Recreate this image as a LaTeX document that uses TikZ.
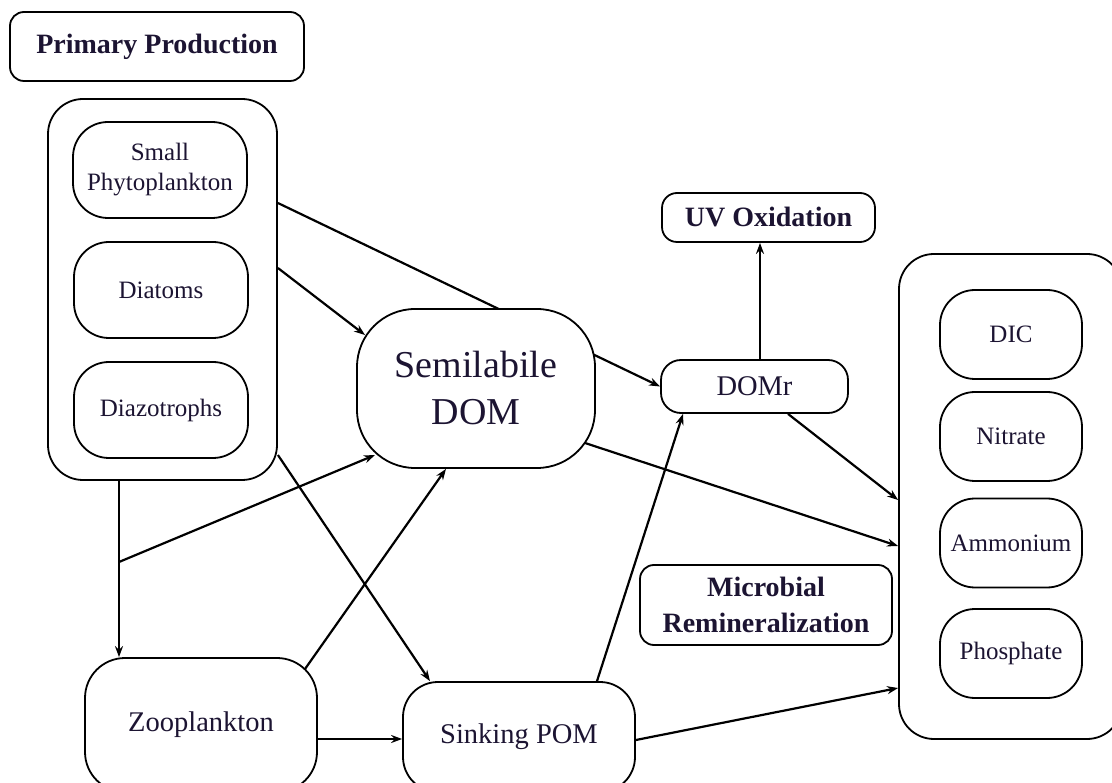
\documentclass[tikz,border=0pt]{standalone}
\usepackage{fontspec}
\setmainfont{Liberation Serif}
\usetikzlibrary{arrows.meta,backgrounds,calc}
\definecolor{inkdark}{RGB}{28,20,50}

\begin{document}
\begin{tikzpicture}[x=1pt, y=-1pt, >={Stealth[length=11pt,width=8pt]},
  card/.style={draw, fill=white, line width=1.8pt, inner sep=0pt, align=center, text=inkdark},
  group/.style={card, rounded corners=35pt},
  plankton/.style={card, rounded corners=35pt, minimum width=174pt, minimum height=96pt,
    font=\fontsize{25}{30}\selectfont},
  nutrient/.style={card, rounded corners=35pt, minimum width=142pt, minimum height=89pt,
    font=\fontsize{25}{30}\selectfont},
  proc/.style={card, rounded corners=14pt, font=\fontsize{28}{36}\selectfont\bfseries},
  pool/.style={card, font=\fontsize{28.5}{34}\selectfont},
  flux/.style={->, line width=2.2pt}]
  \useasboundingbox (0,0) rectangle (1112,783);
  \clip (0,0) rectangle (1112,783);

  % process labels
  \node[proc, minimum width=294pt, minimum height=69pt] (prim) at (157,46.5) {Primary Production};
  \node[proc, minimum width=213pt, minimum height=49pt, rounded corners=15pt] (uv) at (768.5,217.5) {UV Oxidation};
  \node[proc, minimum width=252pt, minimum height=80pt] (micro) at (766,605) {Microbial\\Remineralization};

  % phytoplankton group
  \node[group, minimum width=229pt, minimum height=381pt] (phyto) at (162.5,289.5) {};
  \node[plankton] (small) at (160,170) {Small\\Phytoplankton};
  \node[plankton] (diatoms) at (161,290) {Diatoms};
  \node[plankton] (diazo) at (161,410) {Diazotrophs};

  % organic matter pools
  \node[card, minimum width=238pt, minimum height=159pt, rounded corners=58pt,
    font=\fontsize{38}{47}\selectfont] (semi) at (476,388.5) {Semilabile\\DOM};
  \node[pool, minimum width=187pt, minimum height=53pt, rounded corners=20pt] (domr) at (754.5,386.5) {DOMr};
  \node[pool, minimum width=232pt, minimum height=134pt, rounded corners=40pt] (zoo) at (201,725) {\raisebox{6pt}{Zooplankton}};
  \node[pool, minimum width=232pt, minimum height=110pt, rounded corners=35pt] (sink) at (519,737) {\raisebox{2pt}{Sinking POM}};

  % nutrient group
  \node[group, minimum width=223pt, minimum height=485pt] (nut) at (1010.5,496.5) {};
  \node[nutrient] (dic) at (1011,334.5) {DIC};
  \node[nutrient] (nitrate) at (1011,436.5) {Nitrate};
  \node[nutrient] (ammon) at (1011,543) {Ammonium};
  \node[nutrient] (phos) at (1011,653.5) {Phosphate};

  \coordinate (split) at (119,562);
  \coordinate (zoout) at (317,739);
  \coordinate (domtop) at ([xshift=5.5pt]domr.north);

  % fluxes
  \begin{scope}[on background layer]
    \draw[flux] ([yshift=86.5pt]phyto.east) -- (domr.west);
    \draw[flux] ([yshift=21.5pt]phyto.east) -- ($(semi.center)+(-111pt,53.5pt)$);
    \draw[flux] (split |- phyto.south) -- (split |- zoo.north);
    \draw[flux] (split) -- ($(semi.center)+(-101pt,-66.5pt)$);
    \draw[flux] ([yshift=-165.5pt]phyto.east) -- ([xshift=-89pt]sink.north);
    \draw[flux] (305,669) -- ([xshift=-30pt]semi.south);
    \draw[flux] (zoout) -- (zoout -| sink.west);
    \draw[flux] ([xshift=78pt]sink.north) -- ([xshift=-71.5pt]domr.south);
    \draw[flux] ([yshift=-3pt]sink.east) -- ([yshift=-191.5pt]nut.west);
    \draw[flux] ($(semi.center)+(109pt,-54.5pt)$) -- ([yshift=-49.5pt]nut.west);
    \draw[flux] ([xshift=33.5pt]domr.south) -- ([yshift=-3.5pt]nut.west);
    \draw[flux] (domtop) -- (domtop |- uv.south);
  \end{scope}
\end{tikzpicture}
\end{document}
